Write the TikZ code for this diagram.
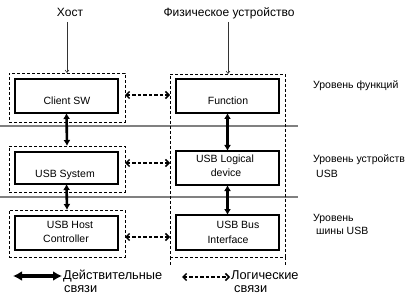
\documentclass[tikz,border=0pt]{standalone}
\usepackage{fontspec}
\setmainfont{Liberation Sans}
\usetikzlibrary{arrows.meta}
\begin{document}
\begin{tikzpicture}[x=1pt,y=-1pt,
  solidbox/.style={draw=black,line width=1.5pt,inner sep=0pt,outer sep=0pt},
  dbox/.style={draw=black,line width=0.8pt,dash pattern=on 3pt off 2pt,inner sep=0pt,outer sep=0pt},
  boxtext/.style={font=\fontsize{10.5}{13}\selectfont,inner sep=0pt,anchor=base},
  sidetext/.style={font=\fontsize{10.5}{13}\selectfont,inner sep=0pt,anchor=base west},
  toptext/.style={font=\fontsize{12}{14}\selectfont,inner sep=0pt,anchor=base},
  legtext/.style={font=\fontsize{12.8}{14}\selectfont,inner sep=0pt,anchor=base west},
  thick arrow/.style={line width=2.6pt,{Latex[length=6pt,width=7pt]}-{Latex[length=6pt,width=7pt]}},
  leg thick/.style={line width=3.6pt,{Latex[length=9pt,width=10pt]}-{Latex[length=9pt,width=10pt]}},
  logic arrow/.style={line width=1.5pt,dash pattern=on 3.5pt off 2pt,{Straight Barb[length=3.5pt,width=7pt]}-{Straight Barb[length=3.5pt,width=7pt]}},
  thin arrow/.style={line width=0.6pt,draw=black!80,-{Straight Barb[length=2.5pt,width=4pt]}},
  levelline/.style={draw=black!50,line width=1.3pt}]
\useasboundingbox (0,0) rectangle (415,302);

% level separators
\coordinate (l1a) at (0,126);
\coordinate (l1b) at (298,126);
\coordinate (l2a) at (0,197);
\coordinate (l2b) at (298,197);
\draw[levelline] (l1a) -- (l1b);
\draw[levelline] (l2a) -- (l2b);

% dashed groups
\node[dbox,minimum width=116pt,minimum height=49pt] (dcsw) at (67,97.5) {};
\node[dbox,minimum width=116pt,minimum height=46pt] (dsys) at (67,169) {};
\node[dbox,minimum width=116pt,minimum height=47pt] (dhc) at (67,233.5) {};
\node[dbox,minimum width=115pt,minimum height=183pt] (dev) at (227.5,165.5) {};
\draw[dbox] (dev.south west) -- ++(0,9);
\draw[dbox] (dev.south east) -- ++(0,9);

% solid boxes
\node[solidbox,minimum width=103pt,minimum height=34pt] (csw) at (66.5,96) {};
\node[solidbox,minimum width=103pt,minimum height=32pt] (sys) at (66.5,168) {};
\node[solidbox,minimum width=103pt,minimum height=34pt] (hc) at (66.5,233) {};
\node[solidbox,minimum width=103pt,minimum height=34pt] (fun) at (227.5,96) {};
\node[solidbox,minimum width=103pt,minimum height=34pt] (uld) at (227.5,168) {};
\node[solidbox,minimum width=103pt,minimum height=35pt] (ubi) at (227.5,232.5) {};

% box texts
\node[boxtext] (tcsw) at (67,105) {Client SW};
\node[boxtext] (tfun) at (228,105) {Function};
\node[boxtext] (tsys) at (65,177) {USB System};
\node[boxtext] (thc1) at (70,228) {USB Host};
\node[boxtext] (thc2) at (66,242) {Controller};
\node[boxtext] (tuld1) at (225,163) {USB Logical};
\node[boxtext] (tuld2) at (226,176) {device};
\node[boxtext] (tubi1) at (238,228) {USB Bus};
\node[boxtext] (tubi2) at (228,243) {Interface};

% top titles
\node[toptext] (host) at (70,16.5) {Хост};
\node[toptext] (phys) at (229,16.5) {Физическое устройство};
\coordinate (ha) at (67,22);
\coordinate (pa) at (228,22);
\draw[thin arrow] (ha) -- (ha |- dcsw.north);
\draw[thin arrow] (pa) -- (pa |- dev.north);

% level labels
\node[sidetext] (lv1) at (313,89) {Уровень функций};
\node[sidetext] (lv2a) at (313,163) {Уровень устройств};
\node[sidetext] (lv2b) at (316,177) {USB};
\node[sidetext] (lv3a) at (313,221) {Уровень};
\node[sidetext] (lv3b) at (316,234) {шины USB};

% physical connections
\draw[thick arrow] (csw.south) -- (dsys.north);
\draw[thick arrow] (sys.south) -- (dhc.north);
\draw[thick arrow] (fun.south) -- (uld.north);
\draw[thick arrow] (uld.south) -- (ubi.north);

% logical connections
\coordinate (g1) at ([yshift=2.5pt]dcsw.east);
\coordinate (g2) at ([yshift=6pt]dsys.east);
\coordinate (g3) at ([yshift=-3.5pt]dhc.east);
\draw[logic arrow] (g1) -- (dev.west |- g1);
\draw[logic arrow] (g2) -- (dev.west |- g2);
\draw[logic arrow] (g3) -- (dev.west |- g3);

% legend
\coordinate (k1a) at (13,276);
\coordinate (k1b) at (62,276);
\draw[leg thick] (k1a) -- (k1b);
\node[legtext] (k1t1) at (63,279) {Действительные};
\node[legtext] (k1t2) at (64,292) {связи};
\coordinate (k2a) at (182,277);
\coordinate (k2b) at (230,277);
\draw[logic arrow] (k2a) -- (k2b);
\node[legtext] (k2t1) at (231,279) {Логические};
\node[legtext] (k2t2) at (234,292) {связи};
\end{tikzpicture}
\end{document}
